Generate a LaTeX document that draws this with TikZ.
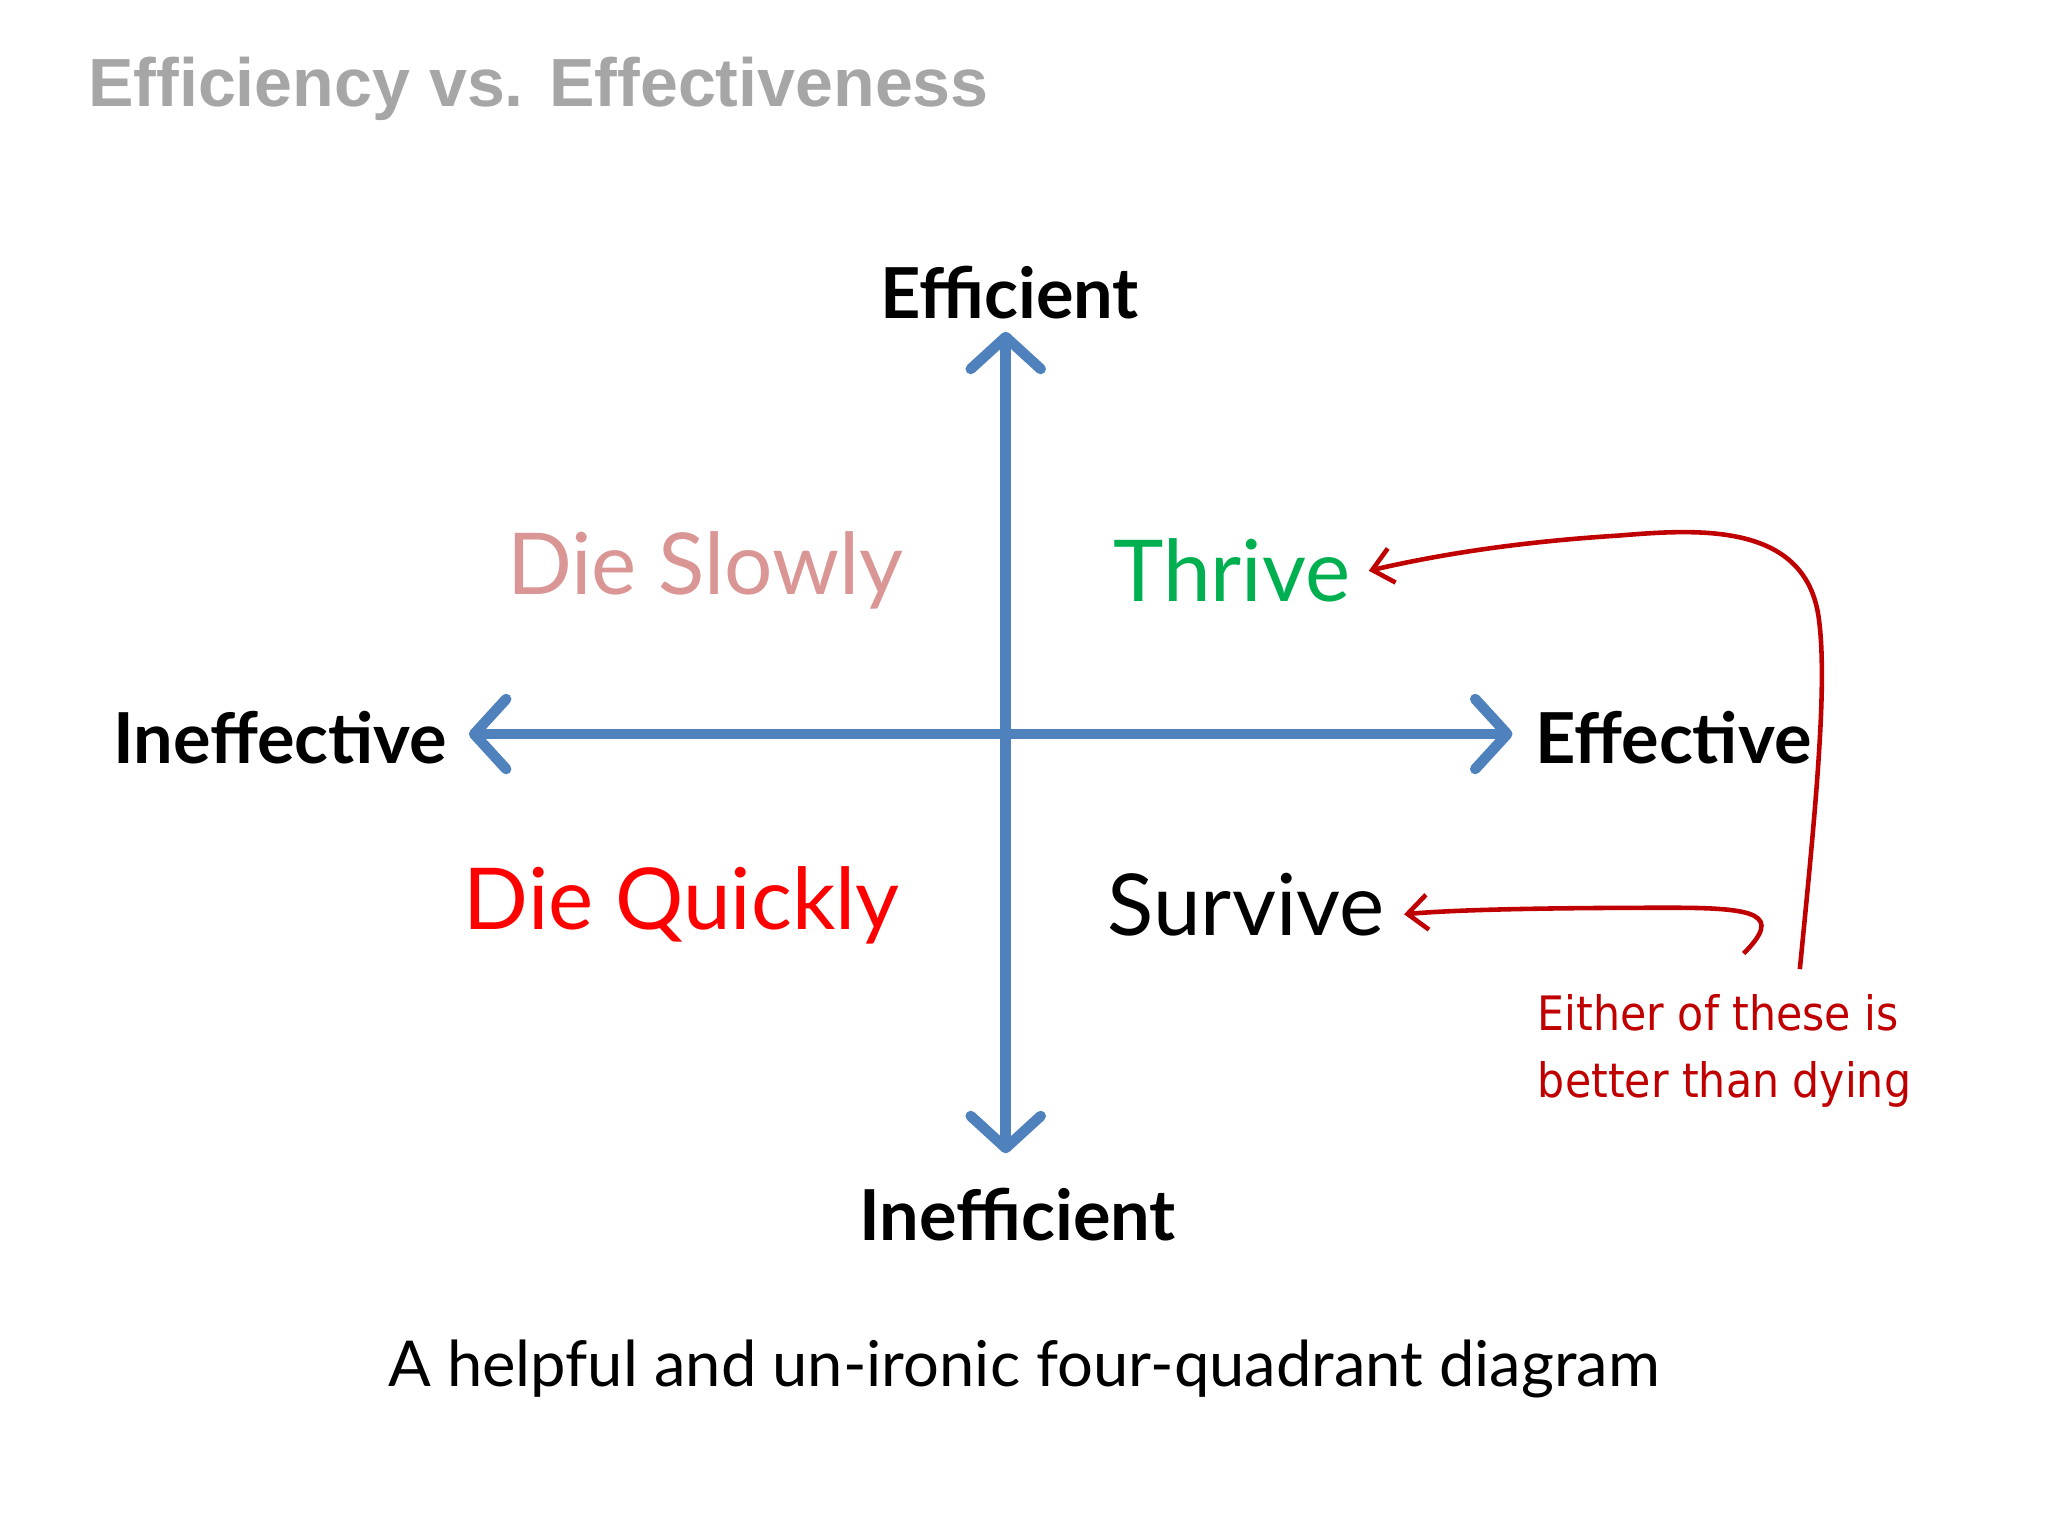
\documentclass[tikz,border=0pt]{standalone}
\usepackage{fontspec}
\setmainfont{Lato}
\newfontfamily\titlefont{Liberation Sans}
\newfontfamily\handfont{DejaVu Sans Condensed}
\usetikzlibrary{arrows.meta}
\definecolor{axisblue}{RGB}{79,129,189}
\definecolor{annred}{RGB}{192,0,0}
\definecolor{slowpink}{RGB}{217,150,148}
\definecolor{thrivegreen}{RGB}{0,176,80}
\begin{document}
\begin{tikzpicture}[x=0.013061cm,y=-0.013061cm,
  axis/.style={draw=axisblue,line width=3pt,line cap=round,-{Straight Barb[length=3.2mm,width=7mm,line width=3pt,round]}},
  axlabel/.style={font=\fontsize{20}{24}\selectfont\bfseries},
  quad/.style={font=\fontsize{24.3}{28}\selectfont},
  ann/.style={draw=annred,line width=1.3pt,-{Straight Barb[length=2mm,width=3.5mm]}},
  hand/.style={text=annred,font=\handfont\fontsize{13.5}{19}\selectfont,align=left}]
\useasboundingbox (0,0) rectangle (1568,1176);
\node[anchor=west,text=black!35,font=\titlefont\bfseries\fontsize{19.4}{22}\selectfont] (title) at (58,68) {Efficiency vs. Effectiveness};
\coordinate (c) at (770,562);
\coordinate (top) at (770,254);
\coordinate (bot) at (770,883);
\coordinate (lft) at (359,562);
\coordinate (rgt) at (1158,562);
\draw[axis] (c) -- (top);
\draw[axis] (c) -- (bot);
\draw[axis] (c) -- (lft);
\draw[axis] (c) -- (rgt);
\node[axlabel] (eff) at (773,224) {Efficient};
\node[axlabel] (ineff) at (779,930) {Inefficient};
\node[axlabel,anchor=east] (ineffective) at (352,565) {Ineffective};
\node[axlabel,anchor=west] (effective) at (1166,565) {Effective};
\node[quad,text=slowpink] (slow) at (540,437) {Die Slowly};
\node[quad,text=thrivegreen] (thrive) at (943,437) {Thrive};
\node[quad,text=red] (quick) at (522,693) {Die Quickly};
\node[quad] (survive) at (954,693) {Survive};
\node[font=\fontsize{18}{22}\selectfont] (cap) at (784,1048) {A helpful and un-ironic four-quadrant diagram};
\node[hand,anchor=north west] (note) at (1168,752) {Either of these is\\better than dying};
\coordinate (s1) at (1378,742);
\coordinate (s2) at (1335,730);
\draw[ann] (s1) .. controls (1390,620) and (1400,520) .. (1392,470) .. controls (1380,400) and (1300,405) .. (1240,410) .. controls (1160,415) and (1100,425) .. (1048,437);
\draw[ann] (s2) .. controls (1365,700) and (1345,695) .. (1280,695) .. controls (1200,695) and (1120,696) .. (1075,700);
\end{tikzpicture}
\end{document}
